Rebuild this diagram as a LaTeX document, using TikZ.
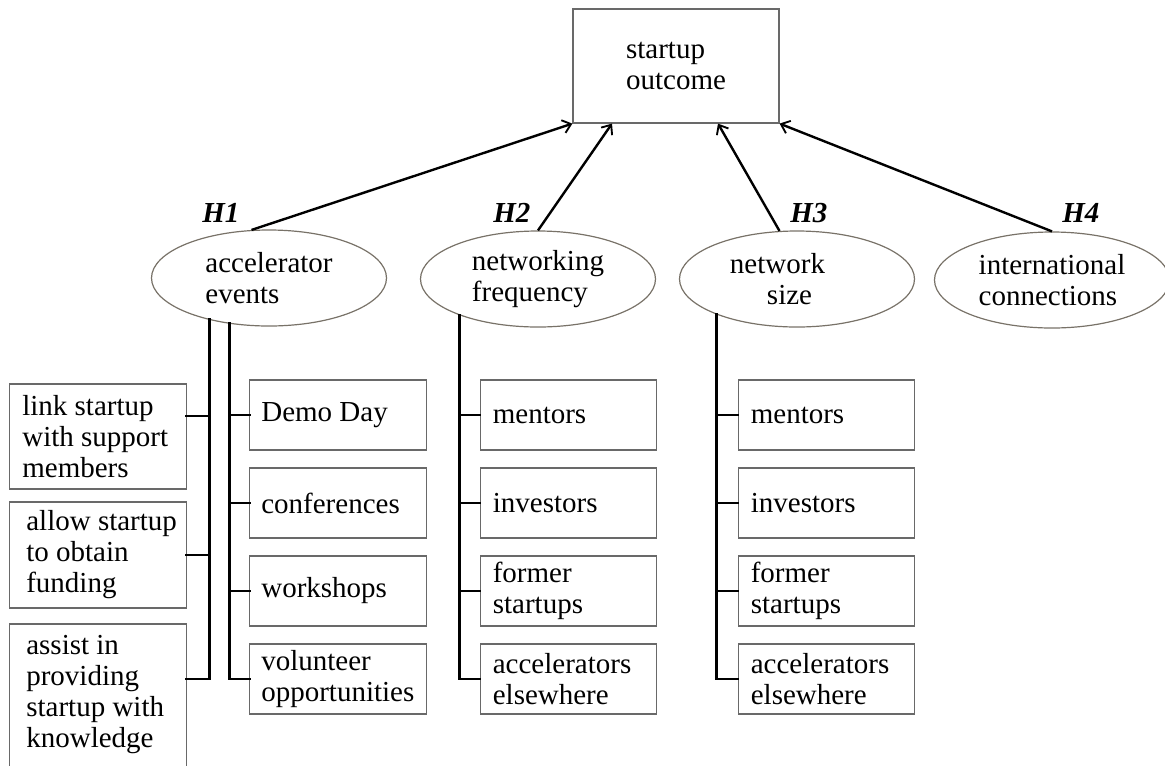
\documentclass[tikz,border=0pt]{standalone}
\usepackage{fontspec}
\setmainfont{Liberation Serif}
\usetikzlibrary{arrows.meta,calc,shapes.geometric}
\newcommand\fsz{\fontsize{21.75pt}{23.25pt}\selectfont}
\definecolor{boxgray}{RGB}{105,105,105}
\definecolor{ellgray}{RGB}{120,114,104}
\begin{document}
\begin{tikzpicture}[x=0.75pt,y=-0.75pt,
  font=\fsz,
  box/.style={draw=boxgray, line width=0.9pt, inner sep=0pt, minimum width=132.5pt},
  sbox/.style={box, minimum height=52.5pt},
  ell/.style={draw=ellgray, line width=0.9pt, ellipse, inner sep=0pt, minimum width=176.25pt, minimum height=72pt, align=left},
  txt/.style={anchor=west, align=left, inner sep=0pt},
  hyp/.style={anchor=base west, inner sep=0pt, font=\fsz\bfseries\itshape},
  arr/.style={line width=1.8pt, -{Straight Barb[length=6pt,width=10pt,line width=1.4pt]}},
  trunk/.style={line width=2.2pt, line cap=rect}
]
\useasboundingbox (0,0) rectangle (1165,765);

% outcome box
\node[box, minimum width=154.5pt, minimum height=85.5pt, align=left] (top) at (676,66) {startup\\outcome};

% ellipses
\node[ell] (e1) at (269,278) {accelerator\\events};
\node[ell] (e2) at (538,279) {networking\\frequency};
\node[ell] (e3) at (797,279) {network\hspace*{29.25pt}\\\hspace*{27.75pt}size};
\node[ell] (e4) at (1052,280) {international\\connections};

% hypothesis labels
\node[hyp] (h1) at (202,222) {H1};
\node[hyp] (h2) at (493,222) {H2};
\node[hyp] (h3) at (790,222) {H3};
\node[hyp] (h4) at (1062,222) {H4};

% arrows
\draw[arr] (e1.110) -- (top.south west);
\draw[arr] (e2.north) -- ($(top.south)+(-64,0)$);
\draw[arr] (e3.110) -- ($(top.south)+(42,0)$);
\draw[arr] (e4.north) -- (top.south east);

% column 1, left boxes
\node[box, minimum height=78.75pt] (l1) at (98,436.5) {};
\node[box, minimum height=79.5pt] (l2) at (98,555) {};
\node[box, minimum height=113.25pt] (l3) at (98,699.5) {};
\node[txt, xshift=9.75pt] (l1t) at (l1.west) {link startup\\with support\\members};
\node[txt, xshift=12.75pt] (l2t) at (l2.west) {allow startup\\to obtain\\funding};
\node[txt, xshift=12.75pt, yshift=3.4pt] (l3t) at (l3.west) {assist in\\providing\\startup with\\knowledge};

% column 1, right boxes
\node[sbox] (r1) at (338,415) {};
\node[sbox] (r2) at (338,503) {};
\node[sbox] (r3) at (338,591) {};
\node[sbox] (r4) at (338,679) {};
\node[txt, xshift=9pt] (r1t) at (r1.west) {Demo Day};
\node[txt, xshift=9pt] (r2t) at (r2.west) {conferences};
\node[txt, xshift=9pt] (r3t) at (r3.west) {workshops};
\node[txt, xshift=9pt] (r4t) at (r4.west) {volunteer\\opportunities};

% column 2
\node[sbox] (m1) at (568.5,415) {};
\node[sbox] (m2) at (568.5,503) {};
\node[sbox] (m3) at (568.5,591) {};
\node[sbox] (m4) at (568.5,679) {};
\node[txt, xshift=9.75pt] (m1t) at (m1.west) {mentors};
\node[txt, xshift=9.75pt] (m2t) at (m2.west) {investors};
\node[txt, xshift=9.75pt] (m3t) at (m3.west) {former\\startups};
\node[txt, xshift=9.75pt] (m4t) at (m4.west) {accelerators\\elsewhere};

% column 3
\node[sbox] (n1) at (826.5,415) {};
\node[sbox] (n2) at (826.5,503) {};
\node[sbox] (n3) at (826.5,591) {};
\node[sbox] (n4) at (826.5,679) {};
\node[txt, xshift=9.75pt] (n1t) at (n1.west) {mentors};
\node[txt, xshift=9.75pt] (n2t) at (n2.west) {investors};
\node[txt, xshift=9.75pt] (n3t) at (n3.west) {former\\startups};
\node[txt, xshift=9.75pt] (n4t) at (n4.west) {accelerators\\elsewhere};

% trunks column 1 left
\coordinate (c1) at ([yshift=15.4pt]l1.east);
\coordinate (c3) at ([yshift=15.4pt]l3.east);
\draw[trunk] (e1.215) |- (c3);
\draw[trunk] (c1) -- (c1 -| e1.215);
\draw[trunk] (l2.east) -- (l2.east -| e1.215);

% trunks column 1 right
\draw[trunk] (e1.229) |- (r4.west);
\draw[trunk] (r1.west) -- (r1.west -| e1.229);
\draw[trunk] (r2.west) -- (r2.west -| e1.229);
\draw[trunk] (r3.west) -- (r3.west -| e1.229);

% trunks column 2
\draw[trunk] (e2.205) |- (m4.west);
\draw[trunk] (m1.west) -- (m1.west -| e2.205);
\draw[trunk] (m2.west) -- (m2.west -| e2.205);
\draw[trunk] (m3.west) -- (m3.west -| e2.205);

% trunks column 3
\draw[trunk] (e3.204) |- (n4.west);
\draw[trunk] (n1.west) -- (n1.west -| e3.204);
\draw[trunk] (n2.west) -- (n2.west -| e3.204);
\draw[trunk] (n3.west) -- (n3.west -| e3.204);
\end{tikzpicture}
\end{document}
